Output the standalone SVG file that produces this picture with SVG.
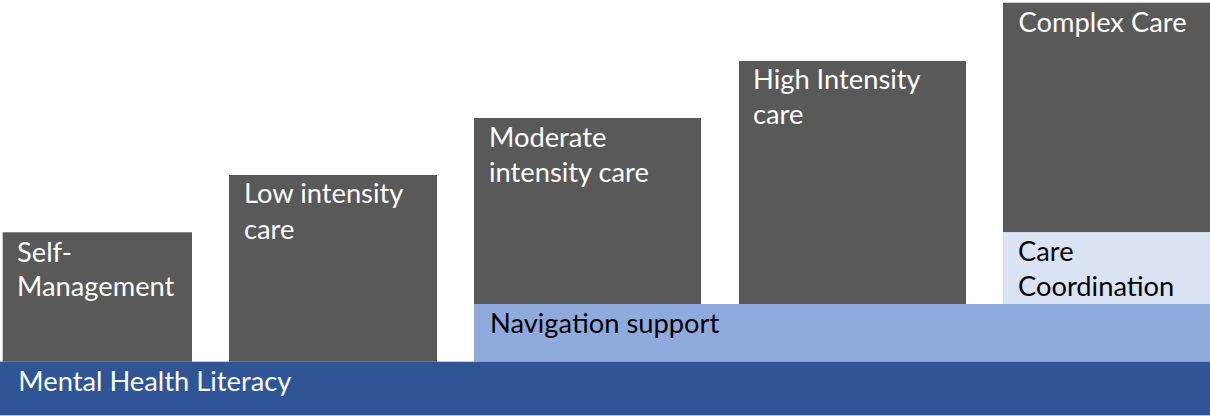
<svg xmlns="http://www.w3.org/2000/svg" width="1210" height="416" viewBox="0 0 1210 416">
  <style>
    .step { fill: #595959; }
    .lit { fill: #2F5597; }
    .nav { fill: #8FAADC; }
    .coord { fill: #DAE3F3; }
    text { font-family: Lato, "Liberation Sans", sans-serif; font-size: 27.3px; }
    .light { fill: #FFFFFF; }
    .dark { fill: #000000; }
  </style>
  <rect width="1210" height="416" fill="#FFFFFF"/>

  <g id="self-management">
    <rect class="step" x="2.7" y="232.3" width="189.3" height="129.4"/>
    <text class="light" x="17" y="261.7">Self-</text>
    <text class="light" x="17" y="296">Management</text>
  </g>

  <g id="low-intensity">
    <rect class="step" x="229" y="175" width="208" height="186.7"/>
    <text class="light" x="244" y="203.3">Low intensity</text>
    <text class="light" x="244" y="238.5">care</text>
  </g>

  <g id="moderate-intensity">
    <rect class="step" x="474" y="118" width="227" height="186"/>
    <text class="light" x="489" y="146.7">Moderate</text>
    <text class="light" x="489" y="181.7">intensity care</text>
  </g>

  <g id="high-intensity">
    <rect class="step" x="739" y="61" width="227" height="243"/>
    <text class="light" x="753" y="89.3">High Intensity</text>
    <text class="light" x="753" y="124.3">care</text>
  </g>

  <g id="complex-care">
    <rect class="step" x="1003" y="2.7" width="207" height="229.6"/>
    <text class="light" x="1018.5" y="32.3">Complex Care</text>
  </g>

  <g id="care-coordination">
    <rect class="coord" x="1003" y="232.3" width="207" height="71.7"/>
    <text class="dark" x="1018" y="260.7">Care</text>
    <text class="dark" x="1018" y="296">Coordination</text>
  </g>

  <g id="navigation-support">
    <rect class="nav" x="474" y="304" width="736" height="57.7"/>
    <text class="dark" x="490" y="333.3">Navigation support</text>
  </g>

  <g id="mental-health-literacy">
    <rect class="lit" x="0" y="361.7" width="1210" height="53.6"/>
    <text class="light" x="18.3" y="390.7">Mental Health Literacy</text>
  </g>

  <g id="connectors"/>
</svg>
